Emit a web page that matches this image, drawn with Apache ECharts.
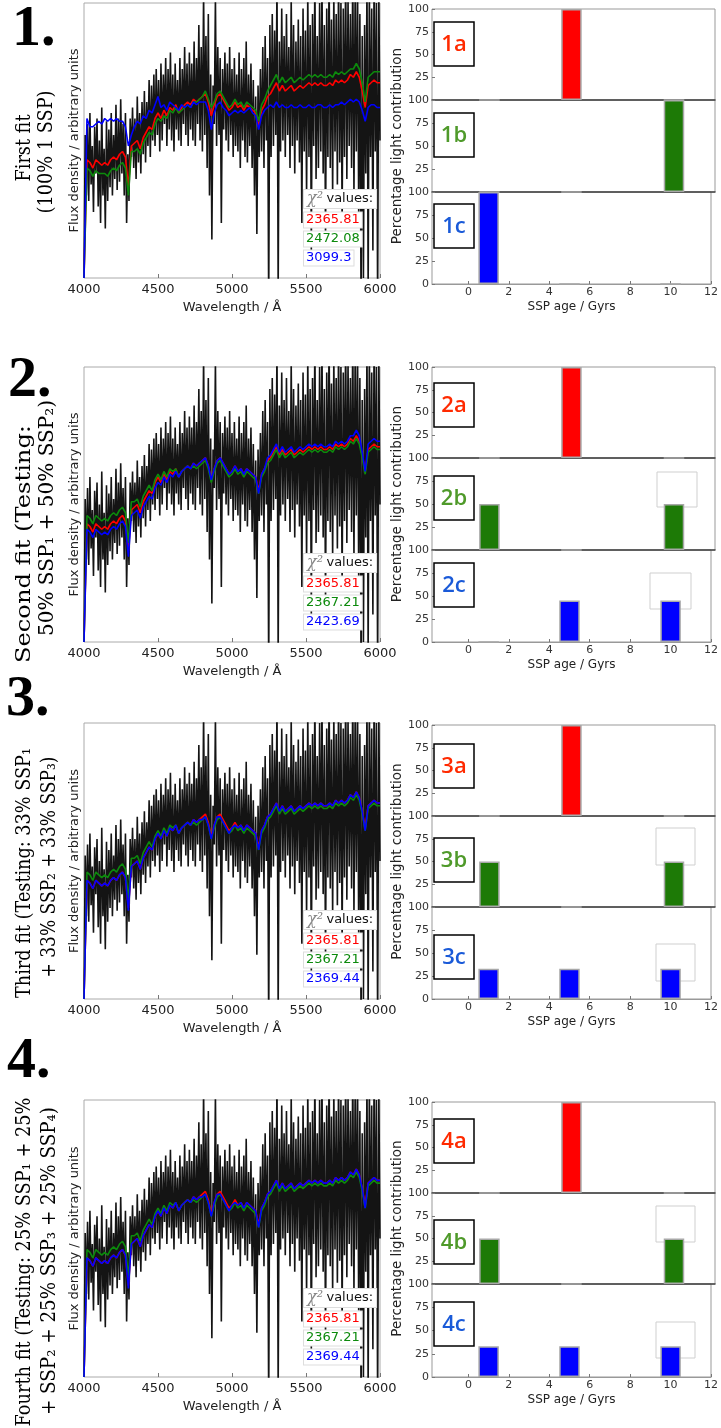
<!DOCTYPE html>
<html><head><meta charset="utf-8">
<script src="https://cdn.jsdelivr.net/npm/echarts@6/dist/echarts.min.js"></script>
<style>html,body{margin:0;padding:0;background:#fff}#c{width:721px;height:1428px}</style>
</head><body><div id="c"></div>
<script>
// ---------------- DATA ----------------
const waveTicks = [4000, 4500, 5000, 5500, 6000];
const ageTicks = [0, 2, 4, 6, 8, 10, 12];
const pctTicks = [0, 25, 50, 75, 100];
const ages = [1, 5, 10];

// observed spectrum, sampled every 8 Å from 4000 Å (arbitrary units, 0-100 = plot height)
const obsFlux = [
 0,52,30,56,28,60,34,48,24,55,
 38,58,26,50,20,62,30,47,18,57,
 28,54,33,60,30,52,36,63,32,58,
 35,65,38,56,30,60,20,45,28,58,
 44,62,40,58,36,66,42,60,38,64,
 45,68,42,64,48,72,44,70,50,74,
 48,76,52,72,46,78,50,74,56,80,
 48,76,54,82,50,74,46,78,54,72,
 50,80,48,76,56,84,52,78,48,82,
 54,78,50,86,48,80,56,92,50,84,
 46,104,52,88,40,96,30,74,14,70,
 56,102,48,84,52,80,20,76,54,82,
 50,78,46,84,52,76,44,80,48,74,
 46,82,40,76,50,80,44,86,42,74,
 48,78,40,72,30,66,16,70,44,76,
 46,84,40,88,50,80,-10,92,44,96,
 48,90,52,108,-5,86,46,98,50,88,
 44,96,52,84,40,102,48,92,38,86,
 50,94,42,88,20,98,46,90,30,104,
 44,92,10,96,48,110,36,88,40,100,
 46,108,38,92,14,98,44,112,40,94,
 30,104,46,96,34,110,42,100,20,98,
 44,112,36,102,48,96,40,114,30,104,
 46,110,24,96,-10,88,0,92,38,108,
 -5,106,44,98,10,112,46,100,-10,104,
 50
];

// model spectra, sampled every 20 Å from 4000 Å
const modelRed = [
 0,43,42,40,43,42,41,42,41,43,
 44,43,45,46,44,33,48,49,50,47,
 51,53,55,54,58,60,58,61,59,62,
 61,63,60,62,63,64,63,65,64,65,
 66,67,64,59,63,66,67,65,63,61,
 62,64,62,63,61,63,62,61,60,55,
 61,63,66,67,69,71,68,70,68,69,
 70,68,69,70,69,70,71,70,71,70,
 71,70,70,71,70,72,71,72,71,72,
 74,73,75,73,68,62,70,71,72,71,71
];
const modelGreen1 = [
 0,40,39,37,39,38,38,38,37,39,
 40,39,41,42,40,30,46,46,47,45,
 49,51,53,52,56,58,57,59,58,61,
 60,62,60,61,62,63,62,64,64,65,
 66,68,65,62,64,67,68,66,64,62,
 63,65,63,64,62,64,63,62,61,57,
 63,65,68,70,72,74,71,73,71,72,
 73,71,72,73,72,73,74,73,74,73,
 74,73,73,74,73,75,74,75,74,75,
 76,76,78,76,71,64,73,74,75,75,75
];
const modelBlue1 = [
 0,58,55,55,56,57,56,58,57,58,
 57,58,57,57,55,48,52,55,57,56,
 59,58,61,60,63,66,62,63,61,64,
 63,62,61,63,62,63,62,64,63,64,
 64,64,61,54,60,63,64,62,61,59,
 60,61,60,61,60,61,62,60,59,54,
 59,61,62,63,62,64,62,63,62,62,
 63,62,62,63,62,62,63,62,62,63,
 63,62,62,63,62,63,63,64,63,64,
 65,64,65,64,61,57,62,63,63,62,62
];
const modelGreen2 = [
 0,46,45,43,46,45,44,45,44,46,
 47,46,48,49,47,36,51,51,52,49,
 53,55,57,55,59,61,59,62,60,63,
 62,63,60,62,63,64,63,64,63,64,
 65,66,63,58,62,65,66,64,62,60,
 61,63,61,62,60,62,61,60,59,54,
 60,62,65,66,68,70,67,69,67,68,
 69,67,68,69,68,69,70,69,70,69,
 70,69,69,70,69,71,70,71,70,71,
 73,72,74,72,67,61,69,70,71,70,70
];
const modelBlue2 = [
 0,41,40,38,41,40,39,40,39,41,
 42,41,43,44,42,31,46,47,48,45,
 49,51,53,52,56,58,57,60,58,61,
 60,62,60,62,63,64,63,65,64,65,
 66,67,64,59,63,66,67,65,63,61,
 62,64,62,63,61,63,62,61,60,54,
 61,63,67,68,70,72,69,71,69,70,
 71,69,70,71,70,71,72,71,72,71,
 72,71,71,72,71,73,72,73,72,73,
 75,75,77,75,69,62,72,73,74,73,73
];
const modelBlue3 = [
 0,43,42,40,43,42,41,42,41,43,
 44,43,45,46,44,32,48,49,50,47,
 51,53,55,54,58,60,58,61,59,62,
 61,63,60,62,63,64,63,65,64,65,
 65,66,63,58,63,66,66,64,62,60,
 62,63,62,63,61,63,62,61,60,54,
 61,63,66,67,69,71,68,70,68,69,
 70,68,69,70,69,70,71,70,71,70,
 71,70,70,71,70,72,71,72,71,72,
 74,73,75,73,68,61,70,71,72,71,71
];

// chi-square values
const chiFit1 = [2365.81, 2472.08, 3099.3];
const chiFit2 = [2365.81, 2367.21, 2423.69];
const chiFit3 = [2365.81, 2367.21, 2369.44];
const chiFit4 = [2365.81, 2367.21, 2369.44];

// percentage light contribution at ages [1, 5, 10] Gyr
const fit1a = [0, 100, 0], fit1b = [0, 0, 100], fit1c = [100, 0, 0];
const fit2a = [0, 100, 0], fit2b = [50, 0, 50], fit2c = [0, 45, 45];
const fit3a = [0, 100, 0], fit3b = [50, 0, 50], fit3c = [33, 33, 33];
const fit4a = [0, 100, 0], fit4b = [50, 0, 50], fit4c = [33, 33, 33];

const panelTags = ['1', '2', '3', '4'];
const subTags = ['a', 'b', 'c'];
const titleLines = [
  ['First fit', '(100% 1 SSP)'],
  ['Second fit (Testing:', '50% SSP\u2081 + 50% SSP\u2082)'],
  ['Third fit (Testing: 33% SSP\u2081', '+ 33% SSP\u2082 + 33% SSP\u2083)'],
  ['Fourth fit (Testing: 25% SSP\u2081 + 25%', '+ SSP\u2082 + 25% SSP\u2083 + 25% SSP\u2084)']
];

// ---------------- LAYOUT ----------------
const OBS_START = 4000, OBS_STEP = 8, MOD_START = 4000, MOD_STEP = 20;
const pairs = (s, st, v) => v.map((y, i) => [s + st * i, y]);
const SANS = '"DejaVu Sans"';
const SERIF = '"DejaVu Serif"';
const lineColors = ['#ff0000', '#0c8a0c', '#0000ff'];
const barColors = ['#ff0000', '#1d7a06', '#0000ff'];
const tagColors = ['#ff2a00', '#4f9a2a', '#1a5ad8'];

const layout = [
  {top: 3, h: 275, rt: [9, 100, 192, 284], models: [modelRed, modelGreen1, modelBlue1], chi: chiFit1,
   bars: [fit1a, fit1b, fit1c], box: [22, 113, 204], ghost: [],
   num: [12, 30], t1: [25, 148, 67], t2: [47, 152, 123]},
  {top: 367, h: 275, rt: [367, 458, 550, 642], models: [modelRed, modelGreen2, modelBlue2], chi: chiFit2,
   bars: [fit2a, fit2b, fit2c], box: [383, 476, 563], ghost: [[657, 472, 40, 35], [650, 573, 41, 36]],
   num: [8, 381], t1: [25, 544, 238], t2: [48, 518, 236]},
  {top: 723, h: 276, rt: [725, 816, 907, 999], models: [modelRed, modelGreen2, modelBlue3], chi: chiFit3,
   bars: [fit3a, fit3b, fit3c], box: [744, 838, 935], ghost: [[656, 828, 39, 37], [656, 944, 39, 37]],
   num: [6, 700], t1: [25, 873, 250], t2: [50, 867, 221]},
  {top: 1100, h: 277, rt: [1102, 1193, 1284, 1377], models: [modelRed, modelGreen2, modelBlue3], chi: chiFit4,
   bars: [fit4a, fit4b, fit4c], box: [1119, 1220, 1302], ghost: [[656, 1206, 39, 36], [656, 1322, 39, 36]],
   num: [7, 1062], t1: [25, 1262, 329], t2: [50, 1261, 308]}
];

const mctx = document.createElement('canvas').getContext('2d');
function textW(t, font) { mctx.font = font; return mctx.measureText(t).width; }

const grids = [], xs = [], ys = [], series = [], gfx = [];
layout.forEach((P, p) => {
  // ---- spectrum panel
  const gi = grids.length;
  grids.push({left: 84, top: P.top, width: 296, height: P.h, show: true, borderColor: '#aaa', borderWidth: 1});
  xs.push({gridIndex: gi, type: 'value', min: 4000, max: 6000, interval: 500,
    axisLine: {show: false, onZero: false}, splitLine: {show: false},
    axisTick: {show: true, inside: true, length: 4, lineStyle: {color: '#777'}},
    axisLabel: {fontSize: 13, color: '#222', margin: 5, fontFamily: SANS, customValues: waveTicks,
      formatter: v => String(v)},
    name: 'Wavelength / \u00c5', nameLocation: 'middle', nameGap: 23,
    nameTextStyle: {fontSize: 13, color: '#222', fontFamily: SANS}});
  ys.push({gridIndex: gi, type: 'value', min: 0, max: 100,
    axisLine: {show: false, onZero: false}, splitLine: {show: false}, axisTick: {show: false}, axisLabel: {show: false},
    name: 'Flux density / arbitrary units', nameLocation: 'middle', nameGap: 3,
    nameTextStyle: {fontSize: 13, color: '#222', fontFamily: SANS}});
  series.push({type: 'line', xAxisIndex: gi, yAxisIndex: gi, data: pairs(OBS_START, OBS_STEP, obsFlux),
    symbol: 'none', silent: true, clip: true, lineStyle: {color: '#000', width: 1.6, opacity: 0.92}, z: 2});
  P.models.forEach((m, k) => {
    series.push({type: 'line', xAxisIndex: gi, yAxisIndex: gi, data: pairs(MOD_START, MOD_STEP, m),
      symbol: 'none', silent: true, clip: true, lineStyle: {color: lineColors[k], width: 1.6}, z: 3 + k});
  });
  // chi-square boxes
  const gb = P.top + P.h;
  gfx.push({type: 'text', x: 304, y: gb - 79, z: 20, style: {
    text: '{c|\u03c7\u00b2} {v|values:}', verticalAlign: 'middle',
    rich: {c: {font: 'italic 16px "DejaVu Serif"', fill: '#888'}, v: {font: '13px ' + SANS, fill: '#111'}},
    backgroundColor: '#fff', borderColor: '#ddd', borderWidth: 1, padding: [1, 3, 1, 3]}});
  P.chi.forEach((v, k) => {
    gfx.push({type: 'text', x: 304, y: gb - 58 + k * 19, z: 20, style: {
      text: String(v), font: '13px ' + SANS, fill: lineColors[k], verticalAlign: 'middle',
      backgroundColor: '#fff', borderColor: '#ddd', borderWidth: 1, padding: [1, 2, 1, 2]}});
  });
  // ---- bar panels
  for (let j = 0; j < 3; j++) {
    const bi = grids.length;
    grids.push({left: 432, width: 283, top: P.rt[j], height: P.rt[j + 1] - P.rt[j], show: true,
      borderColor: '#999', borderWidth: 1});
    const last = j === 2;
    xs.push({gridIndex: bi, type: 'value', min: -1.8, max: 12,
      splitLine: {show: false},
      axisLine: {show: true, onZero: false, lineStyle: {color: last ? '#999' : '#444', width: last ? 1 : 1.5}},
      axisTick: {show: last, inside: true, length: 3, customValues: ageTicks, lineStyle: {color: '#777'}},
      axisLabel: {show: last, customValues: ageTicks, fontSize: 11, color: '#333', margin: 3, fontFamily: SANS},
      name: last ? 'SSP age / Gyrs' : '', nameLocation: 'middle', nameGap: 17,
      nameTextStyle: {fontSize: 12, color: '#222', fontFamily: SANS}});
    ys.push({gridIndex: bi, type: 'value', min: 0, max: 100, interval: 25,
      splitLine: {show: false}, axisLine: {show: false, onZero: false},
      axisTick: {show: true, inside: true, length: 3, lineStyle: {color: '#777'}},
      axisLabel: {showMinLabel: last, fontSize: 11, color: '#333', margin: 3, fontFamily: SANS},
      name: j === 1 ? 'Percentage light contribution' : '', nameLocation: 'middle', nameGap: 25,
      nameTextStyle: {fontSize: 13.5, color: '#222', fontFamily: SANS}});
    series.push({type: 'bar', xAxisIndex: bi, yAxisIndex: bi, silent: true,
      data: ages.map((a, k) => [a, P.bars[j][k]]), barWidth: 20.5,
      itemStyle: {color: barColors[j], borderColor: '#a8a8a8', borderWidth: 1.5}, z: 3});
    // tag boxes
    const bt = P.box[j];
    gfx.push({type: 'rect', z: 20, shape: {x: 434, y: bt, width: 40, height: 44},
      style: {fill: '#fff', stroke: '#000', lineWidth: 1.5}});
    gfx.push({type: 'text', z: 21, x: 454, y: bt + 23, style: {
      text: panelTags[p] + subTags[j], font: '600 22px "Open Sans"', fill: tagColors[j],
      align: 'center', verticalAlign: 'middle'}});
  }
  P.ghost.forEach(g => gfx.push({type: 'rect', z: 1, shape: {x: g[0], y: g[1], width: g[2], height: g[3]},
    style: {fill: 'rgba(0,0,0,0)', stroke: '#cfcfcf', lineWidth: 1}}));
  // big number
  gfx.push({type: 'text', z: 20, x: P.num[0], y: P.num[1], style: {
    text: panelTags[p] + '.', font: 'bold 58px "Liberation Serif"', fill: '#000', verticalAlign: 'middle'}});
  // rotated titles
  [P.t1, P.t2].forEach((t, k) => {
    const font = '21px ' + SERIF;
    const txt = titleLines[p][k];
    const w = textW(txt, font);
    gfx.push({type: 'text', z: 20, x: t[0], y: t[1], rotation: Math.PI / 2, scaleX: t[2] / w, scaleY: 1,
      style: {text: txt, font: font, fill: '#000', align: 'center', verticalAlign: 'middle'}});
  });
});

const chart = echarts.init(document.getElementById('c'), null, {renderer: 'canvas'});
chart.setOption({animation: false, grid: grids, xAxis: xs, yAxis: ys, series: series, graphic: gfx});
</script></body></html>
